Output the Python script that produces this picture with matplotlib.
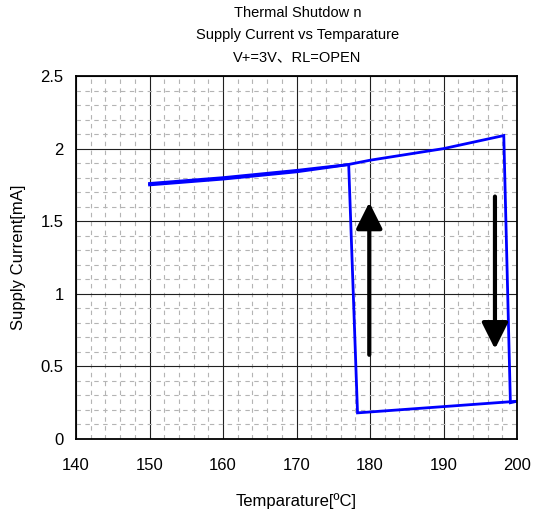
import matplotlib.pyplot as plt
from matplotlib.ticker import MultipleLocator

plt.rcParams['font.family'] = ['Liberation Sans', 'DejaVu Sans']

# heating path: upper curve, then shutdown drop
heat_t = [150, 160, 170, 177, 180, 185, 190, 198.2, 199.1, 200]
heat_i = [1.76, 1.80, 1.85, 1.89, 1.92, 1.96, 2.00, 2.09, 0.25, 0.26]

# cooling path: low current, then recovery jump, back down the upper curve
cool_t = [200, 178.3, 177.1, 170, 160, 150]
cool_i = [0.26, 0.18, 1.89, 1.84, 1.79, 1.75]

# arrows (x, y start, y end)
up_arrow = (179.9, 0.58, 1.63)
down_arrow = (197.0, 1.67, 0.62)

fig = plt.figure(figsize=(5.33, 5.14), dpi=100)
ax = fig.add_axes([0.1426, 0.1459, 0.8274, 0.7062])

ax.plot(heat_t, heat_i, color='#0000ff', lw=2.0, solid_joinstyle='miter')
ax.plot(cool_t, cool_i, color='#0000ff', lw=2.0, solid_joinstyle='miter')

for x, y0, y1 in [up_arrow, down_arrow]:
    ax.annotate('', xy=(x, y1), xytext=(x, y0),
                arrowprops=dict(arrowstyle='-|>,head_length=1.6,head_width=0.8',
                                color='black', lw=3, shrinkA=0, shrinkB=0))

ax.set_xlim(140, 200)
ax.set_ylim(0, 2.5)
ax.xaxis.set_major_locator(MultipleLocator(10))
ax.xaxis.set_minor_locator(MultipleLocator(2))
ax.yaxis.set_major_locator(MultipleLocator(0.5))
ax.yaxis.set_minor_locator(MultipleLocator(0.1))
ax.set_yticks([0, 0.5, 1, 1.5, 2, 2.5])
ax.set_yticklabels(['0', '0.5', '1', '1.5', '2', '2.5'])

ax.grid(which='minor', color='#b4b4b4', linestyle=(0, (4, 4)), lw=0.8)
ax.grid(which='major', color='#202020', linestyle='-', lw=0.8)
ax.set_axisbelow(True)

ax.tick_params(which='both', length=0, labelsize=12)
ax.tick_params(axis='x', pad=14)
ax.tick_params(axis='y', pad=9)
for s in ax.spines.values():
    s.set_linewidth(1.3)
    s.set_color('black')

ax.set_xlabel('Temparature[ºC]', fontsize=12, labelpad=14)
ax.set_ylabel('Supply Current[mA]', fontsize=12, labelpad=10)

fig.text(0.558, 0.975, 'Thermal Shutdow n', ha='center', va='center', fontsize=10.5)
fig.text(0.558, 0.932, 'Supply Current vs Temparature', ha='center', va='center', fontsize=10.5)
fig.text(0.558, 0.889, 'V+=3V、RL=OPEN', ha='center', va='center', fontsize=10.5,
         family=['Liberation Sans', 'Noto Sans CJK JP'])

fig.savefig('out.png', dpi=100)
